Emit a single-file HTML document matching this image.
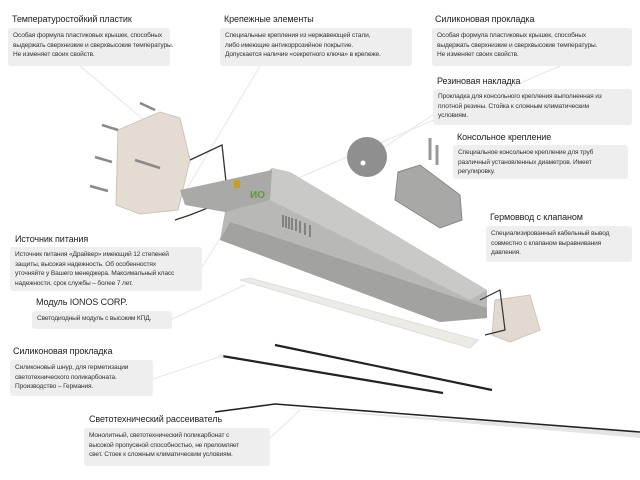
<!DOCTYPE html>
<html><head><meta charset="utf-8"><style>
body{margin:0;width:640px;height:480px;background:#fff;position:relative;overflow:hidden;font-family:"Liberation Sans Narrow","Liberation Sans","DejaVu Sans",sans-serif;}
.t{position:absolute;font-size:9px;color:#222;white-space:nowrap;letter-spacing:-0.1px;}
.b{position:absolute;background:#eeeeee;border-radius:3px;font-size:6.6px;line-height:9.5px;color:#333;padding:3px 5px;box-sizing:border-box;white-space:nowrap;letter-spacing:-0.15px;}
svg{position:absolute;left:0;top:0;}
</style></head><body>
<svg width="640" height="480">
<g stroke="#e6e6e6" stroke-width="1" fill="none">
<line x1="80" y1="66" x2="150" y2="125"/><line x1="260" y1="66" x2="180" y2="200"/>
<line x1="560" y1="66" x2="270" y2="190"/><line x1="440" y1="110" x2="380" y2="150"/>
<line x1="200" y1="270" x2="235" y2="215"/><line x1="170" y1="320" x2="245" y2="285"/>
<line x1="150" y1="380" x2="222" y2="356"/><line x1="268" y1="440" x2="300" y2="410"/>
</g>
<!-- left end cap -->
<path d="M118,130 L160,112 L180,118 L190,160 L178,210 L140,214 L116,205 Z" fill="#e4dbd2" stroke="#cfc4b8"/>
<g stroke="#8a8a8a" stroke-width="2.5"><line x1="140" y1="103" x2="155" y2="110"/><line x1="102" y1="125" x2="118" y2="130"/><line x1="95" y1="157" x2="112" y2="162"/><line x1="90" y1="186" x2="108" y2="191"/><line x1="135" y1="160" x2="160" y2="168"/></g>
<!-- gasket profile -->
<path d="M190,160 L222,145 L228,200 L190,215 L175,220" fill="none" stroke="#333" stroke-width="1.3"/>
<!-- housing -->
<path d="M225,212 L272,168 L290,172 L487,290 L487,318 L440,322 L220,240 Z" fill="#b8b8b6"/>
<path d="M272,168 L290,172 L487,290 L470,300 L270,200 Z" fill="#c9c9c7"/>
<path d="M220,240 L440,322 L487,318 L487,308 L230,222 Z" fill="#a2a2a0"/>
<path d="M180,190 L272,170 L270,200 L225,212 L185,205 Z" fill="#a9aaa8"/>
<rect x="234" y="180" width="6" height="8" fill="#c8a020"/>
<text x="250" y="198" font-size="10" font-weight="bold" fill="#5a9a3a" font-family="Liberation Sans">ИО</text>
<g stroke="#333" stroke-width="0.8"><line x1="283" y1="215" x2="283" y2="227"/><line x1="286" y1="216" x2="286" y2="228"/><line x1="289" y1="217" x2="289" y2="229"/><line x1="292" y1="218" x2="292" y2="230"/><line x1="296" y1="219" x2="296" y2="231"/><line x1="300" y1="221" x2="300" y2="233"/><line x1="305" y1="223" x2="305" y2="235"/><line x1="310" y1="225" x2="310" y2="237"/></g>
<!-- disc -->
<circle cx="367" cy="157" r="20" fill="#8f8f8f"/><circle cx="363" cy="163" r="2.5" fill="#fff"/>
<!-- console -->
<path d="M398,172 L420,165 L460,195 L462,220 L440,228 L395,200 Z" fill="#a8a8a6" stroke="#888"/>
<g stroke="#999" stroke-width="3"><line x1="430" y1="138" x2="430" y2="160"/><line x1="437" y1="145" x2="437" y2="165"/></g>
<!-- right end cap -->
<path d="M495,300 L530,295 L540,330 L510,342 L492,335 Z" fill="#e2dad1" stroke="#cfc4b8"/>
<path d="M480,300 L500,290 L505,330 L485,335" fill="none" stroke="#333" stroke-width="1.2"/>
<!-- LED strip -->
<path d="M240,280 L250,278 L478,340 L470,348 Z" fill="#ecebe6" stroke="#ddd"/>
<!-- black cords -->
<line x1="275" y1="345" x2="492" y2="390" stroke="#222" stroke-width="2.2"/>
<line x1="222" y1="356" x2="443" y2="393" stroke="#222" stroke-width="2.2"/>
<circle cx="221" cy="356" r="2.5" fill="#eee"/>
<!-- diffuser -->
<path d="M275,407 L640,438 L640,432 Z" fill="#e4e4e4"/>
<polyline points="215,412 275,404 640,432" fill="none" stroke="#222" stroke-width="1.6"/>
</svg>

<div class="t" style="left:12px;top:14px">Температуростойкий пластик</div>
<div class="b" style="left:8px;top:28px;width:162px;height:38px">Особая формула пластиковых крышек, способных<br>выдержать сверхнизкие и сверхвысокие температуры.<br>Не изменяет своих свойств.</div>
<div class="t" style="left:224px;top:14px">Крепежные элементы</div>
<div class="b" style="left:220px;top:28px;width:192px;height:38px">Специальные крепления из нержавеющей стали,<br>либо имеющие антикоррозийное покрытие.<br>Допускается наличие «секретного ключа» в крепеже.</div>
<div class="t" style="left:435px;top:14px">Силиконовая прокладка</div>
<div class="b" style="left:432px;top:28px;width:200px;height:38px">Особая формула пластиковых крышек, способных<br>выдержать сверхнизкие и сверхвысокие температуры.<br>Не изменяет своих свойств.</div>
<div class="t" style="left:437px;top:76px">Резиновая накладка</div>
<div class="b" style="left:433px;top:89px;width:199px;height:36px">Прокладка для консольного крепления выполненная из<br>плотной резины. Стойка к сложным климатическим<br>условиям.</div>
<div class="t" style="left:457px;top:132px">Консольное крепление</div>
<div class="b" style="left:453px;top:145px;width:175px;height:34px">Специальное консольное крепление для труб<br>различный установленных диаметров. Имеет<br>регулировку.</div>
<div class="t" style="left:490px;top:212px">Гермоввод с клапаном</div>
<div class="b" style="left:486px;top:226px;width:146px;height:36px">Специализированный кабельный вывод<br>совместно с клапаном выравнивания<br>давления.</div>
<div class="t" style="left:15px;top:234px">Источник питания</div>
<div class="b" style="left:10px;top:247px;width:192px;height:44px">Источник питания «Драйвер» имеющий 12 степеней<br>защиты, высокая надежность. Об особенностях<br>уточняйте у Вашего менеджера. Максимальный класс<br>надежности, срок службы – более 7 лет.</div>
<div class="t" style="left:36px;top:297px">Модуль IONOS CORP.</div>
<div class="b" style="left:32px;top:311px;width:140px;height:18px">Светодиодный модуль с высоким КПД.</div>
<div class="t" style="left:13px;top:346px">Силиконовая прокладка</div>
<div class="b" style="left:10px;top:360px;width:143px;height:36px">Силиконовый шнур, для герметизации<br>светотехнического поликарбоната.<br>Производство – Германия.</div>
<div class="t" style="left:89px;top:414px">Светотехнический рассеиватель</div>
<div class="b" style="left:84px;top:428px;width:186px;height:38px">Монолитный, светотехнический поликарбонат с<br>высокой пропускной способностью, не преломляет<br>свет. Стоек к сложным климатическим условиям.</div>
</body></html>
